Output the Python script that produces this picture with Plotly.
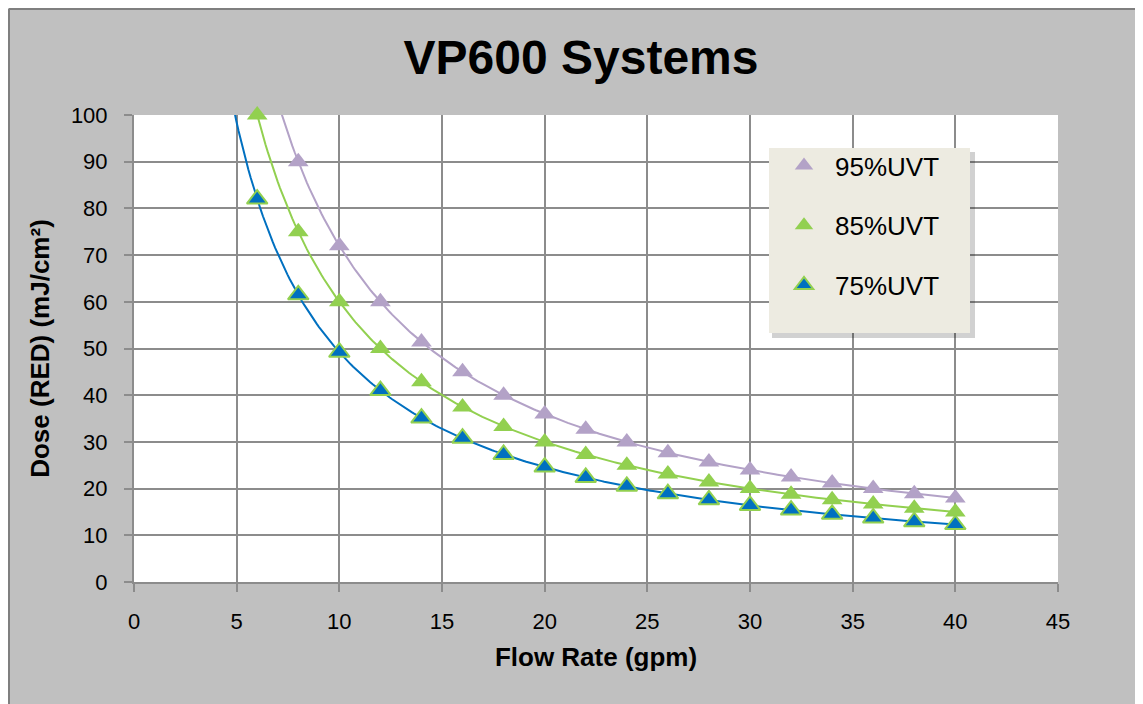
import numpy as np
import plotly.graph_objects as go

# ---- data ----
flow = [8, 10, 12, 14, 16, 18, 20, 22, 24, 26, 28, 30, 32, 34, 36, 38, 40]
dose95 = [90, 72, 60, 51.4, 45, 40, 36, 32.7, 30, 27.7, 25.7, 24, 22.5, 21.2, 20, 18.9, 18]
flow_b = [6, 8, 10, 12, 14, 16, 18, 20, 22, 24, 26, 28, 30, 32, 34, 36, 38, 40]
dose85 = [100, 75, 60, 50, 42.9, 37.5, 33.3, 30, 27.3, 25, 23.1, 21.4, 20, 18.8, 17.6, 16.7, 15.8, 15]
dose75 = [82, 61.5, 49.2, 41, 35.1, 30.8, 27.3, 24.6, 22.4, 20.5, 18.9, 17.6, 16.4, 15.4, 14.5, 13.7, 12.9, 12.3]

series_names = ["95%UVT", "85%UVT", "75%UVT"]
x_ticks = [0, 5, 10, 15, 20, 25, 30, 35, 40, 45]
y_ticks = [0, 10, 20, 30, 40, 50, 60, 70, 80, 90, 100]

# ---- geometry (screen pixels; page body has an 8px margin) ----
OFF = 8
W_SCR, H_SCR = 1143, 704
W_FIG, H_FIG = W_SCR - OFF, H_SCR - OFF
L, R, T, B = 134, 1058, 115, 582
PW, PH = R - L, B - T


def px(x):
    return (x - L) / PW


def py(y):
    return (B - y) / PH


def power_fit(xs, ys, x_from, x_to):
    # power trendline (least squares on log-log), like the spreadsheet trendline
    b, ln_a = np.polyfit(np.log(xs), np.log(ys), 1)
    xf = np.linspace(x_from, x_to, 300)
    return xf, np.exp(ln_a) * xf ** b


fig = go.Figure()

specs = [
    (flow, dose95, "#B3A2C7", "#B3A2C7", series_names[0]),
    (flow_b, dose85, "#92D050", "#92D050", series_names[1]),
    (flow_b, dose75, "#0070C0", "#92D050", series_names[2]),
]

for xs, ys, col, edge, name in specs:
    xf, yf = power_fit(xs, ys, 4.5, 40)
    fig.add_trace(go.Scatter(x=xf, y=yf, mode="lines", line=dict(color=col, width=2),
                             showlegend=False, hoverinfo="skip"))

for i, (xs, ys, col, edge, name) in enumerate(specs):
    fig.add_trace(go.Scatter(
        x=xs, y=ys, mode="markers", name=name, cliponaxis=False, legendgroup="g%d" % i,
        marker=dict(symbol="triangle-up", size=18, color=col,
                    line=dict(color=edge, width=2 if edge != col else 0)),
    ))

shapes = [
    # dark frame line at top/left of chart
    dict(type="line", xref="paper", yref="paper", x0=px(OFF + 1), x1=px(W_SCR), y0=py(OFF + 1), y1=py(OFF + 1),
         line=dict(color="#7F7F7F", width=2), layer="below"),
    dict(type="line", xref="paper", yref="paper", x0=px(OFF + 1), x1=px(OFF + 1), y0=py(H_SCR), y1=py(OFF + 1),
         line=dict(color="#7F7F7F", width=2), layer="below"),
    # legend shadow + box
    dict(type="rect", xref="paper", yref="paper", x0=px(772), x1=px(975), y0=py(338), y1=py(152),
         fillcolor="rgba(0,0,0,0.18)", line_width=0, layer="above"),
    dict(type="rect", xref="paper", yref="paper", x0=px(769), x1=px(970), y0=py(333), y1=py(148),
         fillcolor="#EDEBE1", line_width=0, layer="above"),
]

FONT = "Liberation Sans, Arial, sans-serif"

fig.update_layout(
    width=W_FIG, height=H_FIG,
    margin=dict(l=L - OFF, r=W_SCR - R, t=T - OFF, b=H_SCR - B, pad=0),
    paper_bgcolor="#C0C0C0",
    plot_bgcolor="white",
    font=dict(family=FONT, color="black"),
    title=dict(text="<b>VP600 Systems</b>", x=px(581), xanchor="center",
               y=1 - (57 - OFF) / H_FIG, yanchor="middle",
               xref="paper", yref="container",
               font=dict(size=48, color="black", family=FONT)),
    shapes=shapes,
    showlegend=True,
    legend=dict(x=px(773), y=py(142), xanchor="left", yanchor="top",
                bgcolor="rgba(0,0,0,0)", borderwidth=0,
                font=dict(size=26, family=FONT),
                tracegroupgap=23, itemsizing="trace", itemwidth=52),
)

fig.update_xaxes(
    range=[0, 45], tickvals=x_ticks, ticktext=[str(v) for v in x_ticks],
    showgrid=True, gridcolor="#8C8C8C", gridwidth=2,
    showline=True, linecolor="#8C8C8C", linewidth=2,
    ticks="outside", ticklen=8, tickcolor="#8C8C8C", tickwidth=2,
    tickfont=dict(size=22), zeroline=False, ticklabelstandoff=11,
    title=dict(text="<b>Flow Rate (gpm)</b>", font=dict(size=26), standoff=14),
)
fig.update_yaxes(
    range=[0, 100], tickvals=y_ticks, ticktext=[str(v) for v in y_ticks],
    showgrid=True, gridcolor="#8C8C8C", gridwidth=2,
    showline=True, linecolor="#8C8C8C", linewidth=2,
    ticks="outside", ticklen=8, tickcolor="#8C8C8C", tickwidth=2,
    tickfont=dict(size=22), zeroline=False, ticklabelstandoff=12,
    title=dict(text="<b>Dose (RED) (mJ/cm²)</b>", font=dict(size=26), standoff=14),
)

fig.write_html("out.html")
